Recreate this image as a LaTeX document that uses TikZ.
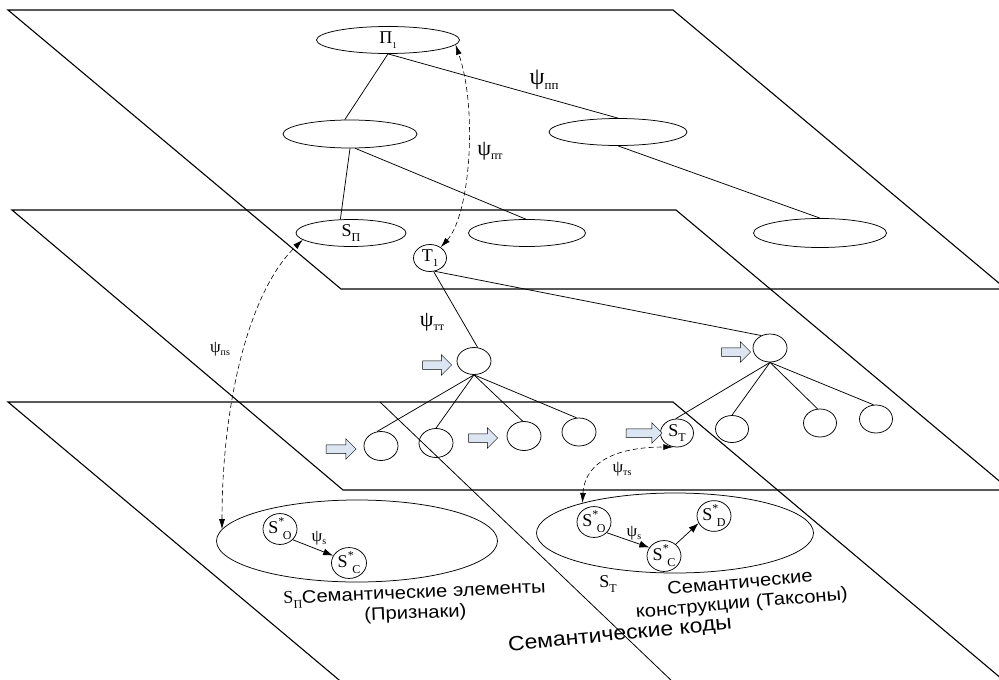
\documentclass[tikz,border=0pt]{standalone}
\usepackage{fontspec}
\setmainfont{Liberation Serif}
\newfontfamily\rusf[FakeStretch=1.12]{Liberation Sans}
\usetikzlibrary{shapes.geometric,shapes.arrows,arrows.meta}
\definecolor{arrowfill}{RGB}{220,230,242}
\newcommand\lsub[2]{\raisebox{-0.3em}{\fontsize{#1}{#1}\selectfont #2}}
\newcommand\psilab[3]{{\fontsize{#1}{#1}\selectfont ψ\raisebox{-0.2em}{\fontsize{#2}{#2}\selectfont #3}}}
\newcommand\sstar[1]{S\raisebox{0.42em}{\fontsize{12}{12}\selectfont *}\kern-1.5pt\raisebox{-0.35em}{\fontsize{12}{12}\selectfont #1}}
\begin{document}
\begin{tikzpicture}[x=1pt,y=-1pt,
  plane/.style={line width=1.1pt},
  oval/.style={ellipse, draw, line width=0.75pt, inner sep=0pt, font=\fontsize{18}{18}\selectfont},
  link/.style={line width=0.75pt},
  dlink/.style={line width=0.6pt, dash pattern=on 5pt off 3pt,
     {Latex[length=10pt,width=6pt]}-{Latex[length=10pt,width=6pt]}},
  sarrow/.style={line width=0.75pt, -{Latex[length=10pt,width=7pt]}},
  barrow/.style={single arrow, draw, fill=arrowfill, line width=0.5pt,
     inner sep=4pt, single arrow head extend=6pt},
  lbl/.style={inner sep=0pt},
  rustext/.style={inner sep=0pt, align=center, font=\rusf\fontsize{18}{20.5}\selectfont}
]
\useasboundingbox (0,0) rectangle (999,680);
\clip (0,0) rectangle (999,680);

% planes
\draw[plane] (8,10) -- (673,10) -- (1006,289) -- (341,289) -- cycle;
\draw[plane] (12,210) -- (676,210) -- (1010,490) -- (343,490) -- cycle;
\draw[plane] (8,402) -- (673,402) -- (1015,690) -- (351,690) -- cycle;
\draw[line width=0.8pt] (380,402) -- (675,684);

% top plane
\node[oval, minimum width=143pt, minimum height=27pt] (p1) at (388,40) {Π\lsub{9}{1}};
\node[oval, minimum width=134pt, minimum height=28pt] (l1) at (350,134) {};
\node[oval, minimum width=138pt, minimum height=27pt] (r1) at (618,132) {};

% middle plane
\node[oval, minimum width=110pt, minimum height=27pt] (sp) at (351,233) {S\lsub{12}{П}};
\node[oval, minimum width=117pt, minimum height=27pt] (m2) at (527,233) {};
\node[oval, minimum width=133pt, minimum height=29pt] (r2) at (820,233) {};
\node[oval, minimum width=33pt, minimum height=27pt] (t1) at (430,258) {T\lsub{11}{1}};

% floating level
\node[oval, minimum width=34pt, minimum height=27pt] (c1) at (474,361) {};
\node[oval, minimum width=34pt, minimum height=28pt] (c2) at (770,348) {};

% bottom row
\node[oval, minimum width=34pt, minimum height=29pt] (b1) at (381,446) {};
\node[oval, minimum width=34pt, minimum height=29pt] (b2) at (436,443) {};
\node[oval, minimum width=34pt, minimum height=29pt] (b3) at (524,436) {};
\node[oval, minimum width=34pt, minimum height=28pt] (b4) at (579,432) {};
\node[oval, minimum width=33pt, minimum height=28pt] (st) at (677,433) {S\lsub{12}{T}};
\node[oval, minimum width=33pt, minimum height=27pt] (b6) at (732,429) {};
\node[oval, minimum width=33pt, minimum height=28pt] (b7) at (820,423) {};
\node[oval, minimum width=33pt, minimum height=28pt] (b8) at (876,419) {};

% block arrows
\node[barrow, minimum height=29pt] (a1) at (435,365) {};
\node[barrow, minimum height=30pt] (a2) at (339,449) {};
\node[barrow, minimum height=29pt] (a3) at (481,438) {};
\node[barrow, minimum height=36pt] (a4) at (642,433) {};
\node[barrow, minimum height=29pt] (a5) at (734,352) {};

% bottom plane ellipses
\node[oval, minimum width=281pt, minimum height=82pt] (e1) at (357,541) {};
\node[oval, minimum width=34pt, minimum height=28pt] (o1) at (280,529) {\sstar{O}};
\node[oval, minimum width=35pt, minimum height=28pt] (cc1) at (349,563) {\sstar{C}};
\node[oval, minimum width=277pt, minimum height=80pt] (e2) at (675,533) {};
\node[oval, minimum width=34pt, minimum height=28pt] (o2) at (594,522) {\sstar{O}};
\node[oval, minimum width=34pt, minimum height=28pt] (cc2) at (664,556) {\sstar{C}};
\node[oval, minimum width=34pt, minimum height=27pt] (d2) at (714,516) {\sstar{D}};

% tree links
\draw[link] (p1.south) -- (l1.110);
\draw[link] (p1.south) -- (r1.north);
\draw[link] (l1.south) -- (sp.128);
\draw[link] (l1.290) -- (m2.95);
\draw[link] (r1.south) -- (r2.north);
\draw[link] (t1.285) -- (c1.75);
\draw[link] (t1.290) -- (c2.125);
\draw[link] (c1.south) -- (b1.105);
\draw[link] (c1.south) -- (b2.north);
\draw[link] (c1.south) -- (b3.95);
\draw[link] (c1.south) -- (b4.100);
\draw[link] (c2.south) -- (st.95);
\draw[link] (c2.south) -- (b6.north);
\draw[link] (c2.south) -- (b7.100);
\draw[link] (c2.south) -- (b8.100);

% element arrows
\draw[sarrow] (o1.-40) -- (cc1.155);
\draw[sarrow] (o2.-40) -- (cc2.150);
\draw[sarrow] (cc2.45) -- (d2.205);

% dashed relations
\draw[dlink] (t1.45) .. controls (470,215) and (478,110) .. (p1.-4);
\draw[dlink] (e1.175) .. controls (222,400) and (250,290) .. (sp.188);
\draw[dlink] (e2.162) .. controls (585,460) and (620,447) .. (st.255);

% psi labels
\node[lbl] (lpp) at (544,80) {\psilab{24}{13}{пп}};
\node[lbl] (lpt) at (490,151) {\psilab{22}{12}{пт}};
\node[lbl] (ltt) at (432,322) {\psilab{22}{12}{тт}};
\node[lbl] (lps) at (220,349) {\psilab{17}{10}{пs}};
\node[lbl] (lts) at (622,469) {\psilab{17}{10}{тs}};
\node[lbl] (ls1) at (319,538) {\psilab{17}{10}{s}};
\node[lbl] (ls2) at (634,533) {\psilab{17}{10}{s}};

% texts
\node[rustext, rotate=2.5] (txt1) at (415,604) {{\rmfamily S\lsub{12}{П}}Семантические элементы\\(Признаки)};
\node[lbl, font=\fontsize{18}{18}\selectfont] (stl) at (608,584) {S\lsub{12}{T}};
\node[rustext, rotate=5] (txt2) at (741,594) {Семантические\\конструкции (Таксоны)};
\node[rustext, rotate=5.7, font=\rusf\fontsize{20.5}{22}\selectfont] (txt3) at (620,635) {Семантические коды};
\end{tikzpicture}
\end{document}
